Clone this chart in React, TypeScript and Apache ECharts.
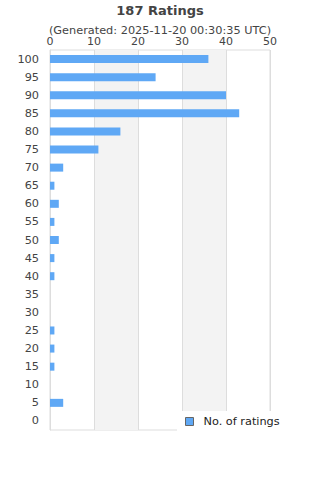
import React, { useEffect, useRef } from "react";
import * as echarts from "echarts";

const categories = ["100", "95", "90", "85", "80", "75", "70", "65", "60", "55", "50", "45", "40", "35", "30", "25", "20", "15", "10", "5", "0"];
const counts = [36, 24, 40, 43, 16, 11, 3, 1, 2, 1, 2, 1, 1, 0, 0, 1, 1, 1, 0, 3, 0];
const seriesName = "No. of ratings";
const titleText = "187 Ratings";
const subtitleText = "(Generated: 2025-11-20 00:30:35 UTC)";

export default function App() {
  const ref = useRef<HTMLDivElement>(null);
  useEffect(() => {
    const chart = echarts.init(ref.current!, null, { renderer: "svg" });
    chart.setOption({
      animation: false,
      title: {
        text: titleText,
        subtext: subtitleText,
        left: "center",
        top: -1,
        itemGap: 8,
        textStyle: { fontSize: 13, fontWeight: "bold", color: "#444", fontFamily: "DejaVu Sans" },
        subtextStyle: { fontSize: 11.3, color: "#444", fontFamily: "DejaVu Sans" },
      },
      grid: { left: 50, right: 50, top: 50, bottom: 50, show: true, borderColor: "#ddd", borderWidth: 1 },
      xAxis: {
        type: "value",
        position: "top",
        min: 0,
        max: 50,
        interval: 10,
        axisLine: { show: false },
        axisTick: { show: false },
        axisLabel: { color: "#444", fontSize: 11, margin: 3, fontFamily: "DejaVu Sans" },
        splitLine: { show: true, lineStyle: { color: "#ddd", width: 1 } },
        splitArea: { show: true, areaStyle: { color: ["rgba(255,255,255,0)", "#f3f3f3"] } },
      },
      yAxis: {
        type: "category",
        data: categories,
        inverse: true,
        axisLine: { show: true, lineStyle: { color: "#ddd" } },
        axisTick: { show: false },
        axisLabel: { color: "#444", fontSize: 11.3, margin: 11, fontFamily: "DejaVu Sans" },
      },
      legend: {
        data: [seriesName],
        left: 177,
        top: 411,
        backgroundColor: "#fff",
        padding: [5, 8, 5, 8],
        itemWidth: 8,
        itemHeight: 8,
        icon: "rect",
        itemStyle: { borderColor: "#666", borderWidth: 1 },
        textStyle: { color: "#222", fontSize: 11.3, fontFamily: "DejaVu Sans", padding: [0, 0, 0, 5] },
      },
      series: [
        {
          name: seriesName,
          type: "bar",
          data: counts,
          barWidth: 8,
          itemStyle: { color: "#5fa8f5" },
        },
      ],
    });
    return () => chart.dispose();
  }, []);
  return <div ref={ref} style={{ width: 320, height: 480, position: "absolute", left: 0, top: 0 }} />;
}
